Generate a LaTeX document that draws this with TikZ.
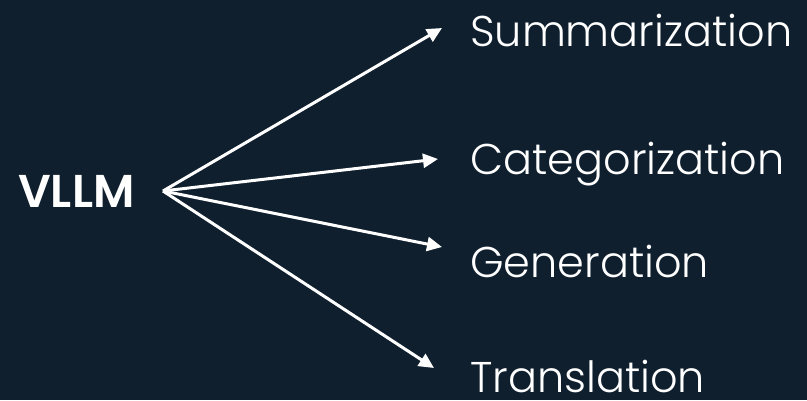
\documentclass[tikz,border=0pt]{standalone}
\usepackage{fontspec}
\setmainfont{Poppins}[UprightFont=* Light, BoldFont=* SemiBold]
\usetikzlibrary{arrows.meta}
\definecolor{navy}{HTML}{0F1F2E}
\begin{document}
\begin{tikzpicture}[x=1pt, y=-1pt, >={Triangle[length=15pt, width=14pt]}]
    \fill[navy] (0,0) rectangle (807,400);
    \useasboundingbox (0,0) rectangle (807,400);
    \node[anchor=base west, inner sep=0, text=white, font=\fontsize{46}{50}\selectfont\bfseries] (vllm) at (18,207) {VLLM};
    \node[anchor=base west, inner sep=0, text=white, font=\fontsize{43}{47}\selectfont] (sum) at (470,46) {Summarization};
    \node[anchor=base west, inner sep=0, text=white, font=\fontsize{43}{47}\selectfont] (cat) at (470,174) {Categorization};
    \node[anchor=base west, inner sep=0, text=white, font=\fontsize{43}{47}\selectfont] (gen) at (470,277) {Generation};
    \node[anchor=base west, inner sep=0, text=white, font=\fontsize{43}{47}\selectfont] (tra) at (470,392) {Translation};
    \coordinate (hub) at (163,191);
    \coordinate (s) at (442,28);
    \coordinate (c) at (438,159);
    \coordinate (g) at (442,247);
    \coordinate (t) at (434,368);
    \draw [->, color=white, line width=3pt] (hub) -- (s);
    \draw [->, color=white, line width=3pt] (hub) -- (c);
    \draw [->, color=white, line width=3pt] (hub) -- (g);
    \draw [->, color=white, line width=3pt] (hub) -- (t);
\end{tikzpicture}
\end{document}
